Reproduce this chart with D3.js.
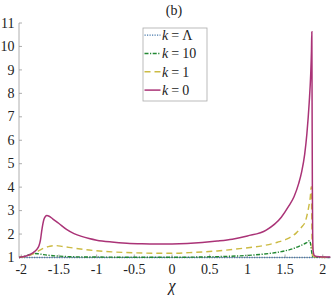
<!DOCTYPE html>
<html>
<head>
<meta charset="utf-8">
<script src="https://cdn.jsdelivr.net/npm/d3@7"></script>
<style>
  body { margin: 0; background: #fff; }
</style>
</head>
<body>
<script>
// values
const xTicks = [-2, -1.5, -1, -0.5, 0, 0.5, 1, 1.5, 2];
const yTicks = [1, 2, 3, 4, 5, 6, 7, 8, 9, 10, 11];

const kLambdaX = [-2.03, 0, 2.1];
const kLambdaY = [1.0, 1.0, 1.0];

const k10X = [-2.03, -1.95, -1.88, -1.82, -1.76, -1.65, -1.5, -1.3, -1.0, -0.5, 0.0, 0.5, 0.9, 1.2, 1.45, 1.6, 1.7, 1.78, 1.825, 1.84, 1.855, 1.87, 2.1];
const k10Y = [1.0, 1.06, 1.13, 1.17, 1.15, 1.1, 1.06, 1.03, 1.02, 1.01, 1.01, 1.03, 1.07, 1.14, 1.25, 1.37, 1.5, 1.62, 1.72, 1.55, 1.2, 1.03, 1.0];

const k1X = [-2.03, -1.95, -1.88, -1.82, -1.76, -1.7, -1.62, -1.55, -1.45, -1.3, -1.1, -0.8, -0.5, -0.2, 0.0, 0.3, 0.6, 0.9, 1.2, 1.4, 1.52, 1.65, 1.72, 1.77, 1.81, 1.835, 1.848, 1.853, 1.858, 1.865, 1.9, 2.1];
const k1Y = [1.0, 1.04, 1.1, 1.2, 1.3, 1.4, 1.48, 1.51, 1.47, 1.4, 1.32, 1.24, 1.2, 1.18, 1.18, 1.22, 1.28, 1.38, 1.5, 1.65, 1.78, 2.05, 2.3, 2.55, 3.1, 3.6, 4.02, 3.0, 1.6, 1.1, 1.02, 1.0];

const k0X = [-2.03, -1.95, -1.88, -1.82, -1.79, -1.765, -1.745, -1.73, -1.715, -1.7, -1.68, -1.66, -1.63, -1.58, -1.5, -1.4, -1.3, -1.2, -1.1, -1.0, -0.8, -0.6, -0.4, -0.2, 0.0, 0.2, 0.4, 0.6, 0.8, 1.0, 1.25, 1.45, 1.55, 1.62, 1.68, 1.72, 1.76, 1.79, 1.82, 1.84, 1.85, 1.855, 1.858, 1.862, 1.866, 1.872, 1.885, 1.92, 2.0, 2.1];
const k0Y = [1.0, 1.05, 1.13, 1.26, 1.36, 1.5, 1.75, 2.1, 2.4, 2.62, 2.75, 2.79, 2.76, 2.64, 2.45, 2.2, 2.02, 1.9, 1.81, 1.74, 1.66, 1.61, 1.585, 1.575, 1.58, 1.6, 1.64, 1.7, 1.78, 1.92, 2.17, 2.72, 3.2, 3.6, 4.15, 4.65, 5.4, 6.3, 7.6, 8.8, 9.8, 10.63, 8.0, 4.0, 2.0, 1.3, 1.1, 1.04, 1.02, 1.02];

const seriesNames = ["Λ", "10", "1", "0"];

const W = 332, H = 299;
const serif = "Liberation Serif";
const x = d3.scaleLinear().domain([-2.03, 2.1]).range([19, 330.3]);
const y = d3.scaleLinear().domain([1, 11]).range([257.5, 23]);

const svg = d3.select("body").append("svg")
  .attr("width", W).attr("height", H)
  .style("font-family", serif);

const series = [
  { name: seriesNames[0], xs: kLambdaX, ys: kLambdaY, color: "#4477aa", dash: "1.2,1.3", w: 1.3 },
  { name: seriesNames[1], xs: k10X, ys: k10Y, color: "#228833", dash: "4,1.5,1.2,1.5", w: 1.4 },
  { name: seriesNames[2], xs: k1X, ys: k1Y, color: "#ccbb44", dash: "6,4", w: 1.4 },
  { name: seriesNames[3], xs: k0X, ys: k0Y, color: "#aa3377", dash: null, w: 1.5 }
];

// axes
const axisColor = "#999";
svg.append("line")
  .attr("x1", x.range()[0]).attr("x2", x.range()[0])
  .attr("y1", y(11)).attr("y2", y(1))
  .attr("stroke", axisColor).attr("stroke-width", 0.8);
svg.append("line")
  .attr("x1", x.range()[0]).attr("x2", x.range()[1])
  .attr("y1", y(1)).attr("y2", y(1))
  .attr("stroke", axisColor).attr("stroke-width", 0.8);

svg.selectAll(".ytick").data(yTicks).enter().append("line")
  .attr("x1", x.range()[0]).attr("x2", x.range()[0] + 3)
  .attr("y1", d => y(d)).attr("y2", d => y(d))
  .attr("stroke", axisColor).attr("stroke-width", 0.8);
svg.selectAll(".ylab").data(yTicks).enter().append("text")
  .attr("x", 14.5).attr("y", d => y(d)).attr("dy", "0.33em")
  .attr("text-anchor", "end").style("font-size", "14px")
  .attr("fill", "#222")
  .text(d => d);

svg.selectAll(".xtick").data(xTicks).enter().append("line")
  .attr("x1", d => x(d)).attr("x2", d => x(d))
  .attr("y1", y(1)).attr("y2", y(1) - 3)
  .attr("stroke", axisColor).attr("stroke-width", 0.8);
svg.selectAll(".xlab").data(xTicks).enter().append("text")
  .attr("x", d => x(d)).attr("y", 274)
  .attr("text-anchor", "middle").style("font-size", "14px")
  .attr("fill", "#222")
  .text(d => d);

svg.append("text")
  .attr("x", x(0)).attr("y", 291)
  .attr("text-anchor", "middle")
  .style("font-size", "16px").style("font-style", "italic")
  .attr("fill", "#222")
  .text("χ");

svg.append("text")
  .attr("x", 174).attr("y", 15)
  .attr("text-anchor", "middle").style("font-size", "14px")
  .attr("fill", "#222")
  .text("(b)");

// curves
const line = d3.line()
  .x(d => x(d[0])).y(d => y(d[1]))
  .curve(d3.curveMonotoneX);

series.forEach(s => {
  svg.append("path")
    .datum(d3.zip(s.xs, s.ys))
    .attr("d", line)
    .attr("fill", "none")
    .attr("stroke", s.color)
    .attr("stroke-width", s.w)
    .attr("stroke-dasharray", s.dash);
});

// legend
const lg = svg.append("g");
lg.append("rect")
  .attr("x", 143).attr("y", 28).attr("width", 64).attr("height", 73)
  .attr("fill", "#fff").attr("stroke", "#aaa").attr("stroke-width", 0.8);

series.forEach((s, i) => {
  const cy = 35.2 + i * 18.3;
  lg.append("line")
    .attr("x1", 144.5).attr("x2", 160.5)
    .attr("y1", cy).attr("y2", cy)
    .attr("stroke", s.color).attr("stroke-width", s.w)
    .attr("stroke-dasharray", s.dash);
  const t = lg.append("text")
    .attr("x", 162).attr("y", cy).attr("dy", "0.35em")
    .style("font-size", "14px").attr("fill", "#222");
  t.append("tspan").style("font-style", "italic").text("k");
  t.append("tspan").attr("dx", 3).text("=");
  t.append("tspan").attr("dx", 3).text(s.name);
});
</script>
</body>
</html>
